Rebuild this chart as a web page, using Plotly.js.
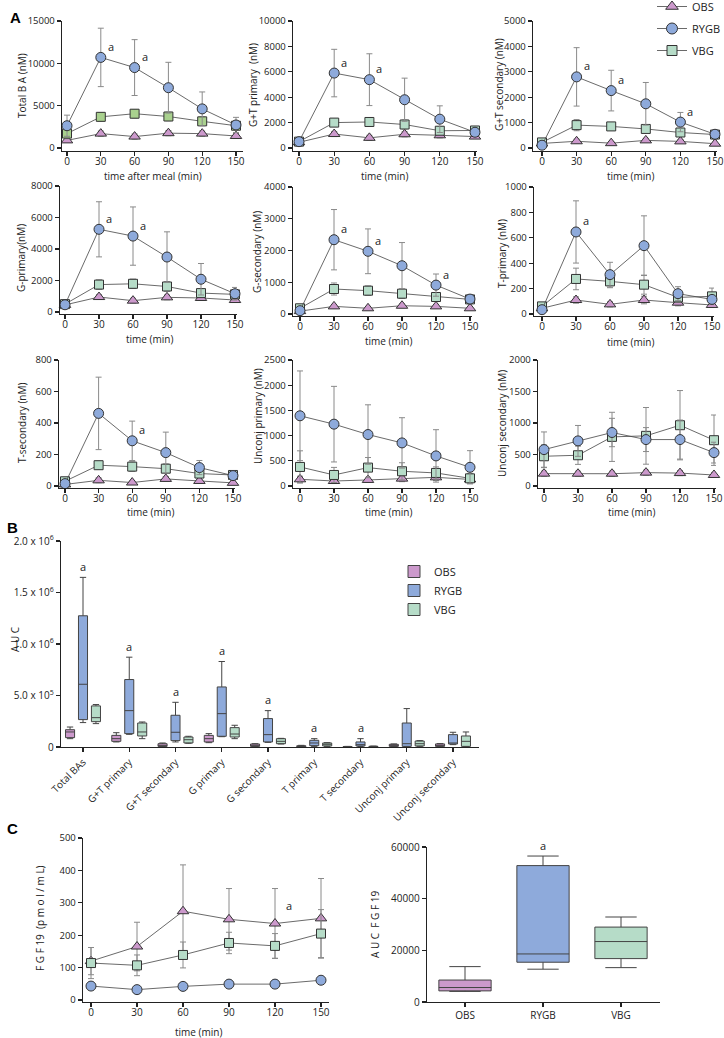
<!DOCTYPE html>
<html>
<head>
<meta charset="utf-8">
<script src="https://cdn.plot.ly/plotly-3.0.1.min.js"></script>
<style>
  html, body { margin: 0; padding: 0; background: #fff; }
  #fig { width: 724px; height: 1038px; }
</style>
</head>
<body>
<div id="fig"></div>
<script>
// sampling times after the meal (min)
const times = [0, 30, 60, 90, 120, 150];

// Panel A: mean and error per group (nM)
const totalBA_OBS = [900, 1700, 1350, 1750, 1700, 1420];
const totalBA_OBS_err = [200, 300, 300, 300, 300, 300];
const totalBA_RYGB = [2630, 10700, 9500, 7120, 4620, 2720];
const totalBA_RYGB_err = [1250, 3450, 3300, 3000, 2000, 900];
const totalBA_VBG = [1700, 3680, 4050, 3720, 3150, 2630];
const totalBA_VBG_err = [600, 500, 500, 500, 500, 400];

const gtPrim_OBS = [450, 1100, 800, 1080, 1000, 900];
const gtPrim_OBS_err = [100, 200, 200, 200, 200, 150];
const gtPrim_RYGB = [500, 5900, 5380, 3800, 2270, 1240];
const gtPrim_RYGB_err = [150, 1870, 2040, 1700, 1050, 200];
const gtPrim_VBG = [500, 2000, 2050, 1850, 1360, 1380];
const gtPrim_VBG_err = [150, 300, 350, 350, 300, 250];

const gtSec_OBS = [180, 265, 190, 300, 260, 170];
const gtSec_OBS_err = [50, 80, 60, 80, 70, 50];
const gtSec_RYGB = [110, 2800, 2260, 1740, 1020, 540];
const gtSec_RYGB_err = [50, 1150, 800, 840, 380, 80];
const gtSec_VBG = [220, 900, 850, 750, 610, 530];
const gtSec_VBG_err = [80, 220, 150, 150, 150, 100];

const gPrim_OBS = [450, 950, 720, 930, 890, 760];
const gPrim_OBS_err = [100, 150, 150, 150, 150, 150];
const gPrim_RYGB = [460, 5250, 4820, 3490, 2080, 1160];
const gPrim_RYGB_err = [150, 1750, 1850, 1600, 1000, 400];
const gPrim_VBG = [500, 1740, 1790, 1620, 1200, 1120];
const gPrim_VBG_err = [150, 300, 300, 300, 250, 250];

const gSec_OBS = [90, 240, 180, 260, 240, 180];
const gSec_OBS_err = [30, 60, 50, 60, 60, 40];
const gSec_RYGB = [105, 2340, 1975, 1520, 910, 470];
const gSec_RYGB_err = [40, 950, 705, 730, 350, 80];
const gSec_VBG = [180, 787, 735, 640, 535, 460];
const gSec_VBG_err = [60, 190, 150, 150, 130, 100];

const tPrim_OBS = [45, 110, 76, 110, 89, 71];
const tPrim_OBS_err = [15, 25, 20, 30, 25, 20];
const tPrim_RYGB = [34, 646, 310, 538, 160, 115];
const tPrim_RYGB_err = [15, 245, 97, 235, 55, 30];
const tPrim_VBG = [60, 276, 257, 231, 131, 139];
const tPrim_VBG_err = [20, 85, 50, 75, 40, 65];

const tSec_OBS = [10, 36, 22, 45, 32, 20];
const tSec_OBS_err = [5, 15, 10, 15, 10, 8];
const tSec_RYGB = [15, 461, 287, 212, 117, 66];
const tSec_RYGB_err = [8, 230, 125, 130, 45, 15];
const tSec_VBG = [30, 132, 123, 110, 79, 70];
const tSec_VBG_err = [10, 25, 30, 30, 20, 15];

const uPrim_OBS = [133, 99, 120, 146, 172, 130];
const uPrim_OBS_err = [60, 50, 50, 60, 60, 50];
const uPrim_RYGB = [1393, 1227, 1021, 855, 597, 371];
const uPrim_RYGB_err = [890, 750, 590, 500, 520, 330];
const uPrim_VBG = [378, 219, 365, 292, 259, 152];
const uPrim_VBG_err = [320, 150, 200, 170, 120, 100];

const uSec_OBS = [196, 195, 195, 212, 205, 175];
const uSec_OBS_err = [40, 40, 40, 40, 40, 40];
const uSec_RYGB = [578, 716, 849, 737, 737, 530];
const uSec_RYGB_err = [280, 245, 225, 190, 310, 165];
const uSec_VBG = [472, 488, 780, 796, 965, 727];
const uSec_VBG_err = [180, 145, 390, 450, 550, 400];

// Panel B: AUC box statistics per bile acid class
const aucCats = ['Total BAs', 'G+T primary', 'G+T secondary', 'G primary', 'G secondary',
                 'T primary', 'T secondary', 'Unconj primary', 'Unconj secondary'];
const aucOBS_lo  = [81e3, 49e3, 3e3, 42e3, 3e3, 1e3, 500, 3e3, 3e3];
const aucOBS_q1  = [91e3, 55e3, 6e3, 49e3, 6e3, 2e3, 1e3, 6e3, 6e3];
const aucOBS_med = [146e3, 81e3, 16e3, 81e3, 16e3, 6e3, 2e3, 12e3, 15e3];
const aucOBS_q3  = [168e3, 113e3, 32e3, 113e3, 29e3, 12e3, 4e3, 26e3, 30e3];
const aucOBS_hi  = [194e3, 139e3, 39e3, 130e3, 32e3, 16e3, 6e3, 30e3, 33e3];

const aucRYGB_lo  = [237e3, 123e3, 49e3, 100e3, 45e3, 6e3, 5e3, 3e3, 23e3];
const aucRYGB_q1  = [266e3, 130e3, 62e3, 104e3, 49e3, 13e3, 10e3, 6e3, 29e3];
const aucRYGB_med = [609e3, 353e3, 143e3, 324e3, 120e3, 39e3, 23e3, 32e3, 39e3];
const aucRYGB_q3  = [1274e3, 655e3, 308e3, 583e3, 276e3, 65e3, 49e3, 233e3, 120e3];
const aucRYGB_hi  = [1647e3, 872e3, 434e3, 830e3, 353e3, 81e3, 81e3, 373e3, 143e3];

const aucVBG_lo  = [227e3, 81e3, 36e3, 81e3, 29e3, 6e3, 1e3, 6e3, 3e3];
const aucVBG_q1  = [246e3, 107e3, 39e3, 97e3, 32e3, 10e3, 2e3, 10e3, 6e3];
const aucVBG_med = [285e3, 146e3, 71e3, 126e3, 55e3, 26e3, 4e3, 32e3, 55e3];
const aucVBG_q3  = [399e3, 233e3, 97e3, 188e3, 81e3, 39e3, 7e3, 58e3, 107e3];
const aucVBG_hi  = [412e3, 243e3, 104e3, 211e3, 84e3, 42e3, 9e3, 62e3, 146e3];
const aucSig = [0, 1, 2, 3, 4, 5, 6];   // categories marked "a"

// Panel C: FGF19 (pmol/mL)
const fgf_OBS = [120, 165, 274, 249, 236, 252];
const fgf_OBS_err = [42, 75, 143, 95, 108, 123];
const fgf_RYGB = [43, 32, 42, 49, 49, 61];
const fgf_RYGB_err = [4, 4, 4, 4, 4, 4];
const fgf_VBG = [114, 107, 139, 176, 167, 205];
const fgf_VBG_err = [48, 32, 40, 33, 38, 74];

// FGF19 AUC box statistics
const fgfGroups = ['OBS', 'RYGB', 'VBG'];
const fgfAuc_lo  = [4100, 12700, 13300];
const fgfAuc_q1  = [4300, 15400, 16800];
const fgfAuc_med = [5600, 18600, 23400];
const fgfAuc_q3  = [8500, 52800, 29000];
const fgfAuc_hi  = [13700, 56500, 32900];

const W = 724, H = 1038;
const FONT = 'Open Sans, Liberation Sans, sans-serif';
const INK = '#222';
const COL = { OBS: '#cc99cc', RYGB: '#8eaadb', VBG: '#b6dcc8' };
const SYM = { OBS: 'triangle-up', RYGB: 'circle', VBG: 'square' };
const SIZE = { OBS: 10, RYGB: 10, VBG: 9 };
const RANK = { OBS: 1, RYGB: 2, VBG: 3 };

const fx = px => px / W;
const fy = px => 1 - px / H;

// line charts: pixel geometry (axis ends, 0 and 150 ticks, top tick, 0 level, x axis),
// plus the centres of the y and x titles
const linePanels = [
  { ytitle: 'Total B A (nM)', xtitle: 'time after meal (min)', ymax: 15000, dtick: 5000,
    d: [totalBA_OBS, totalBA_OBS_err, totalBA_RYGB, totalBA_RYGB_err, totalBA_VBG, totalBA_VBG_err],
    px: [62, 243, 67, 236, 21, 148, 151], yt: [22, 86], xt: [153, 176], sig: [1, 2], vbgCol: '#a9d18e' },
  { ytitle: 'G+T primary  (nM)', xtitle: 'time (min)', ymax: 10000, dtick: 2000,
    d: [gtPrim_OBS, gtPrim_OBS_err, gtPrim_RYGB, gtPrim_RYGB_err, gtPrim_VBG, gtPrim_VBG_err],
    px: [293, 477, 299, 475, 21, 148, 151], yt: [253, 85], xt: [384, 176], sig: [1, 2] },
  { ytitle: 'G+T secondary (nM)', xtitle: 'time (min)', ymax: 5000, dtick: 1000,
    d: [gtSec_OBS, gtSec_OBS_err, gtSec_RYGB, gtSec_RYGB_err, gtSec_VBG, gtSec_VBG_err],
    px: [533, 717, 542, 715, 21, 148, 151], yt: [499, 85], xt: [630, 176], sig: [1, 2, 4] },
  { ytitle: 'G-primary(nM)', xtitle: 'time (min)', ymax: 8000, dtick: 2000,
    d: [gPrim_OBS, gPrim_OBS_err, gPrim_RYGB, gPrim_RYGB_err, gPrim_VBG, gPrim_VBG_err],
    px: [60, 237, 65, 235, 186, 312, 314], yt: [21, 258], xt: [149, 339], sig: [1, 2] },
  { ytitle: 'G-secondary (nM)', xtitle: 'time (min)', ymax: 4000, dtick: 1000,
    d: [gSec_OBS, gSec_OBS_err, gSec_RYGB, gSec_RYGB_err, gSec_VBG, gSec_VBG_err],
    px: [293, 472, 300, 470, 187, 314, 316], yt: [257, 252], xt: [388, 341], sig: [1, 2, 4] },
  { ytitle: 'T-primary (nM)', xtitle: 'time (min)', ymax: 1000, dtick: 200,
    d: [tPrim_OBS, tPrim_OBS_err, tPrim_RYGB, tPrim_RYGB_err, tPrim_VBG, tPrim_VBG_err],
    px: [534, 714, 542, 712, 187, 314, 316], yt: [502, 253], xt: [630, 342], sig: [1] },
  { ytitle: 'T-secondary (nM)', xtitle: 'time (min)', ymax: 800, dtick: 200,
    d: [tSec_OBS, tSec_OBS_err, tSec_RYGB, tSec_RYGB_err, tSec_VBG, tSec_VBG_err],
    px: [59, 235, 65, 233, 360, 486, 488], yt: [22, 423], xt: [150, 512], sig: [2] },
  { ytitle: 'Unconj primary (nM)', xtitle: 'time (min)', ymax: 2500, dtick: 500,
    d: [uPrim_OBS, uPrim_OBS_err, uPrim_RYGB, uPrim_RYGB_err, uPrim_VBG, uPrim_VBG_err],
    px: [293, 474, 300, 470, 360, 486, 488], yt: [258, 416], xt: [388, 512], sig: [] },
  { ytitle: 'Unconj secondary (nM)', xtitle: 'time (min)', ymax: 2000, dtick: 500,
    d: [uSec_OBS, uSec_OBS_err, uSec_RYGB, uSec_RYGB_err, uSec_VBG, uSec_VBG_err],
    px: [538, 716, 544, 714, 360, 486, 488], yt: [502, 423], xt: [631, 512], sig: [] },
  { ytitle: 'F G F 19  (p m o l / m L)', xtitle: 'time (min)', ymax: 500, dtick: 100,
    d: [fgf_OBS, fgf_OBS_err, fgf_RYGB, fgf_RYGB_err, fgf_VBG, fgf_VBG_err],
    px: [83, 329, 91, 321, 838, 1000, 1002], yt: [40, 918], xt: [198, 1032], sig: [], fgf: true }
];

function baseAxis(extra) {
  return Object.assign({
    showline: true, linecolor: INK, linewidth: 1.3,
    ticks: 'outside', ticklen: 4, tickwidth: 1.2, tickcolor: INK,
    showgrid: false, zeroline: false, fixedrange: true,
    tickfont: { family: FONT, size: 10, color: INK }
  }, extra);
}

const traces = [];
const layout = {
  width: W, height: H,
  margin: { l: 0, r: 0, t: 0, b: 0, autoexpand: false },
  paper_bgcolor: '#fff', plot_bgcolor: 'rgba(0,0,0,0)',
  font: { family: FONT, size: 10, color: INK },
  showlegend: true,
  boxmode: 'group', boxgap: 0.16, boxgroupgap: 0.3,
  annotations: [],
  legend: {
    x: fx(652), y: fy(-8), xanchor: 'left', yanchor: 'top',
    bgcolor: 'rgba(0,0,0,0)', font: { family: FONT, size: 11, color: INK },
    tracegroupgap: 3, itemwidth: 30, traceorder: 'grouped'
  },
  legend2: {
    x: fx(394), y: fy(557), xanchor: 'left', yanchor: 'top',
    bgcolor: 'rgba(0,0,0,0)', font: { family: FONT, size: 11, color: INK },
    tracegroupgap: 0, itemwidth: 30
  }
};

function titleAt(text, cx, cy, angle) {
  layout.annotations.push({
    xref: 'paper', yref: 'paper', x: fx(cx), y: fy(cy), xanchor: 'center', yanchor: 'middle',
    text: text, textangle: angle, showarrow: false,
    font: { family: FONT, size: 10, color: INK }
  });
}

linePanels.forEach((p, i) => {
  const n = i + 1;
  const xa = 'x' + (n === 1 ? '' : n), ya = 'y' + (n === 1 ? '' : n);
  const [axL, axR, x0, x150, top, zeroY, bottom] = p.px;
  const sx = (x150 - x0) / 150;
  const sy = (zeroY - top) / p.ymax;
  layout['xaxis' + (n === 1 ? '' : n)] = baseAxis({
    domain: [fx(axL), fx(axR)], anchor: ya,
    range: [(axL - x0) / sx, (axR - x0) / sx],
    tickvals: times, ticklabelstandoff: -3
  });
  layout['yaxis' + (n === 1 ? '' : n)] = baseAxis({
    domain: [fy(bottom), fy(top)], anchor: xa,
    range: [-(bottom - zeroY) / sy, p.ymax],
    dtick: p.dtick, tick0: 0, tickformat: 'd',
    tickfont: { family: FONT, size: 9.5, color: INK }
  });
  titleAt(p.ytitle, p.yt[0], p.yt[1], -90);
  titleAt(p.xtitle, p.xt[0], p.xt[1], 0);

  const groups = p.fgf
    ? [['OBS', 0], ['RYGB', 2], ['VBG', 4]]
    : [['OBS', 0], ['VBG', 4], ['RYGB', 2]];
  groups.forEach(([g, k]) => {
    const fill = (g === 'VBG' && p.vbgCol) ? p.vbgCol : COL[g];
    traces.push({
      type: 'scatter', mode: 'lines+markers', name: g,
      x: times, y: p.d[k],
      xaxis: xa, yaxis: ya,
      error_y: { type: 'data', array: p.d[k + 1], color: '#8a8a8a', thickness: 1, width: 3 },
      line: { color: '#444', width: 0.8 },
      marker: { symbol: SYM[g], size: SIZE[g], color: fill, line: { color: '#333', width: 1 } },
      showlegend: false, legend: 'legend', legendgroup: g, legendrank: RANK[g],
      cliponaxis: false, hoverinfo: 'skip'
    });
  });

  p.sig.forEach(t => {
    layout.annotations.push({
      xref: xa, yref: ya, x: times[t], y: p.d[2][t], text: 'a', showarrow: false,
      xshift: 10, yshift: 11, font: { family: FONT, size: 11, color: INK }
    });
  });
  if (p.fgf) {
    layout.annotations.push({
      xref: xa, yref: ya, x: times[4], y: p.d[0][4], text: 'a', showarrow: false,
      xshift: 14, yshift: 18, font: { family: FONT, size: 11, color: INK }
    });
  }
});

// legend entries for the line charts (mint square for VBG)
['OBS', 'RYGB', 'VBG'].forEach(g => {
  traces.push({
    type: 'scatter', mode: 'lines+markers', name: g, x: [null], y: [null],
    xaxis: 'x', yaxis: 'y',
    line: { color: '#444', width: 0.8 },
    marker: { symbol: SYM[g], size: SIZE[g] + 1, color: COL[g], line: { color: '#333', width: 1 } },
    showlegend: true, legend: 'legend', legendgroup: g, legendrank: RANK[g], hoverinfo: 'skip'
  });
});

// Panel B: AUC boxes
const aucStats = {
  OBS: [aucOBS_lo, aucOBS_q1, aucOBS_med, aucOBS_q3, aucOBS_hi],
  RYGB: [aucRYGB_lo, aucRYGB_q1, aucRYGB_med, aucRYGB_q3, aucRYGB_hi],
  VBG: [aucVBG_lo, aucVBG_q1, aucVBG_med, aucVBG_q3, aucVBG_hi]
};
const bSpacing = 46.25, bCat0 = 83;
layout.xaxis11 = baseAxis({
  domain: [fx(61), fx(479)], anchor: 'y11', type: 'category',
  range: [(61 - bCat0) / bSpacing, (479 - bCat0) / bSpacing],
  tickangle: -45, categoryorder: 'array', categoryarray: aucCats
});
layout.yaxis11 = baseAxis({
  domain: [fy(747), fy(541)], anchor: 'x11', range: [0, 2e6],
  tickvals: [0, 5e5, 1e6, 1.5e6, 2e6],
  ticktext: ['0', '5.0 x 10<sup>5</sup>', '1.0 x 10<sup>6</sup>', '1.5 x 10<sup>6</sup>', '2.0 x 10<sup>6</sup>']
});
titleAt('A U C', 15, 640, -90);
['OBS', 'RYGB', 'VBG'].forEach(g => {
  const s = aucStats[g];
  traces.push({
    type: 'box', name: g, x: aucCats,
    lowerfence: s[0], q1: s[1], median: s[2], q3: s[3], upperfence: s[4],
    xaxis: 'x11', yaxis: 'y11', offsetgroup: g,
    fillcolor: COL[g], line: { color: '#444', width: 1 }, whiskerwidth: 0.7,
    boxpoints: false, legend: 'legend2', showlegend: true, hoverinfo: 'skip'
  });
});
aucSig.forEach(c => {
  layout.annotations.push({
    xref: 'x11', yref: 'y11', x: aucCats[c], y: aucRYGB_hi[c], text: 'a', showarrow: false,
    yshift: 11, font: { family: FONT, size: 11, color: INK }
  });
});

// Panel C right: FGF19 AUC
const cSpacing = 78, cCat0 = 465;
layout.xaxis12 = baseAxis({
  domain: [fx(427), fx(660)], anchor: 'y12', type: 'category',
  range: [(427 - cCat0) / cSpacing, (660 - cCat0) / cSpacing],
  categoryorder: 'array', categoryarray: fgfGroups
});
layout.yaxis12 = baseAxis({
  domain: [fy(1002), fy(847)], anchor: 'x12', range: [0, 60000],
  dtick: 20000, tickformat: 'd'
});
titleAt('A U C  F G F 19', 375, 925, -90);
fgfGroups.forEach((g, i) => {
  traces.push({
    type: 'box', name: g, x: [g],
    lowerfence: [fgfAuc_lo[i]], q1: [fgfAuc_q1[i]], median: [fgfAuc_med[i]],
    q3: [fgfAuc_q3[i]], upperfence: [fgfAuc_hi[i]],
    xaxis: 'x12', yaxis: 'y12', width: 0.67,
    fillcolor: COL[g], line: { color: '#444', width: 1 }, whiskerwidth: 0.6,
    boxpoints: false, showlegend: false, hoverinfo: 'skip'
  });
});
layout.annotations.push({
  xref: 'x12', yref: 'y12', x: 'RYGB', y: fgfAuc_hi[1], text: 'a', showarrow: false,
  yshift: 11, font: { family: FONT, size: 11, color: INK }
});

// panel letters
[['A', 8, 17], ['B', 5, 527], ['C', 5, 828]].forEach(([t, x, y]) => {
  layout.annotations.push({
    xref: 'paper', yref: 'paper', x: fx(x), y: fy(y), xanchor: 'left', yanchor: 'middle',
    text: '<b>' + t + '</b>', showarrow: false,
    font: { family: 'Liberation Sans, Arial, sans-serif', size: 15, color: '#000' }
  });
});

Plotly.newPlot('fig', traces, layout, { displayModeBar: false, staticPlot: true });
</script>
</body>
</html>
